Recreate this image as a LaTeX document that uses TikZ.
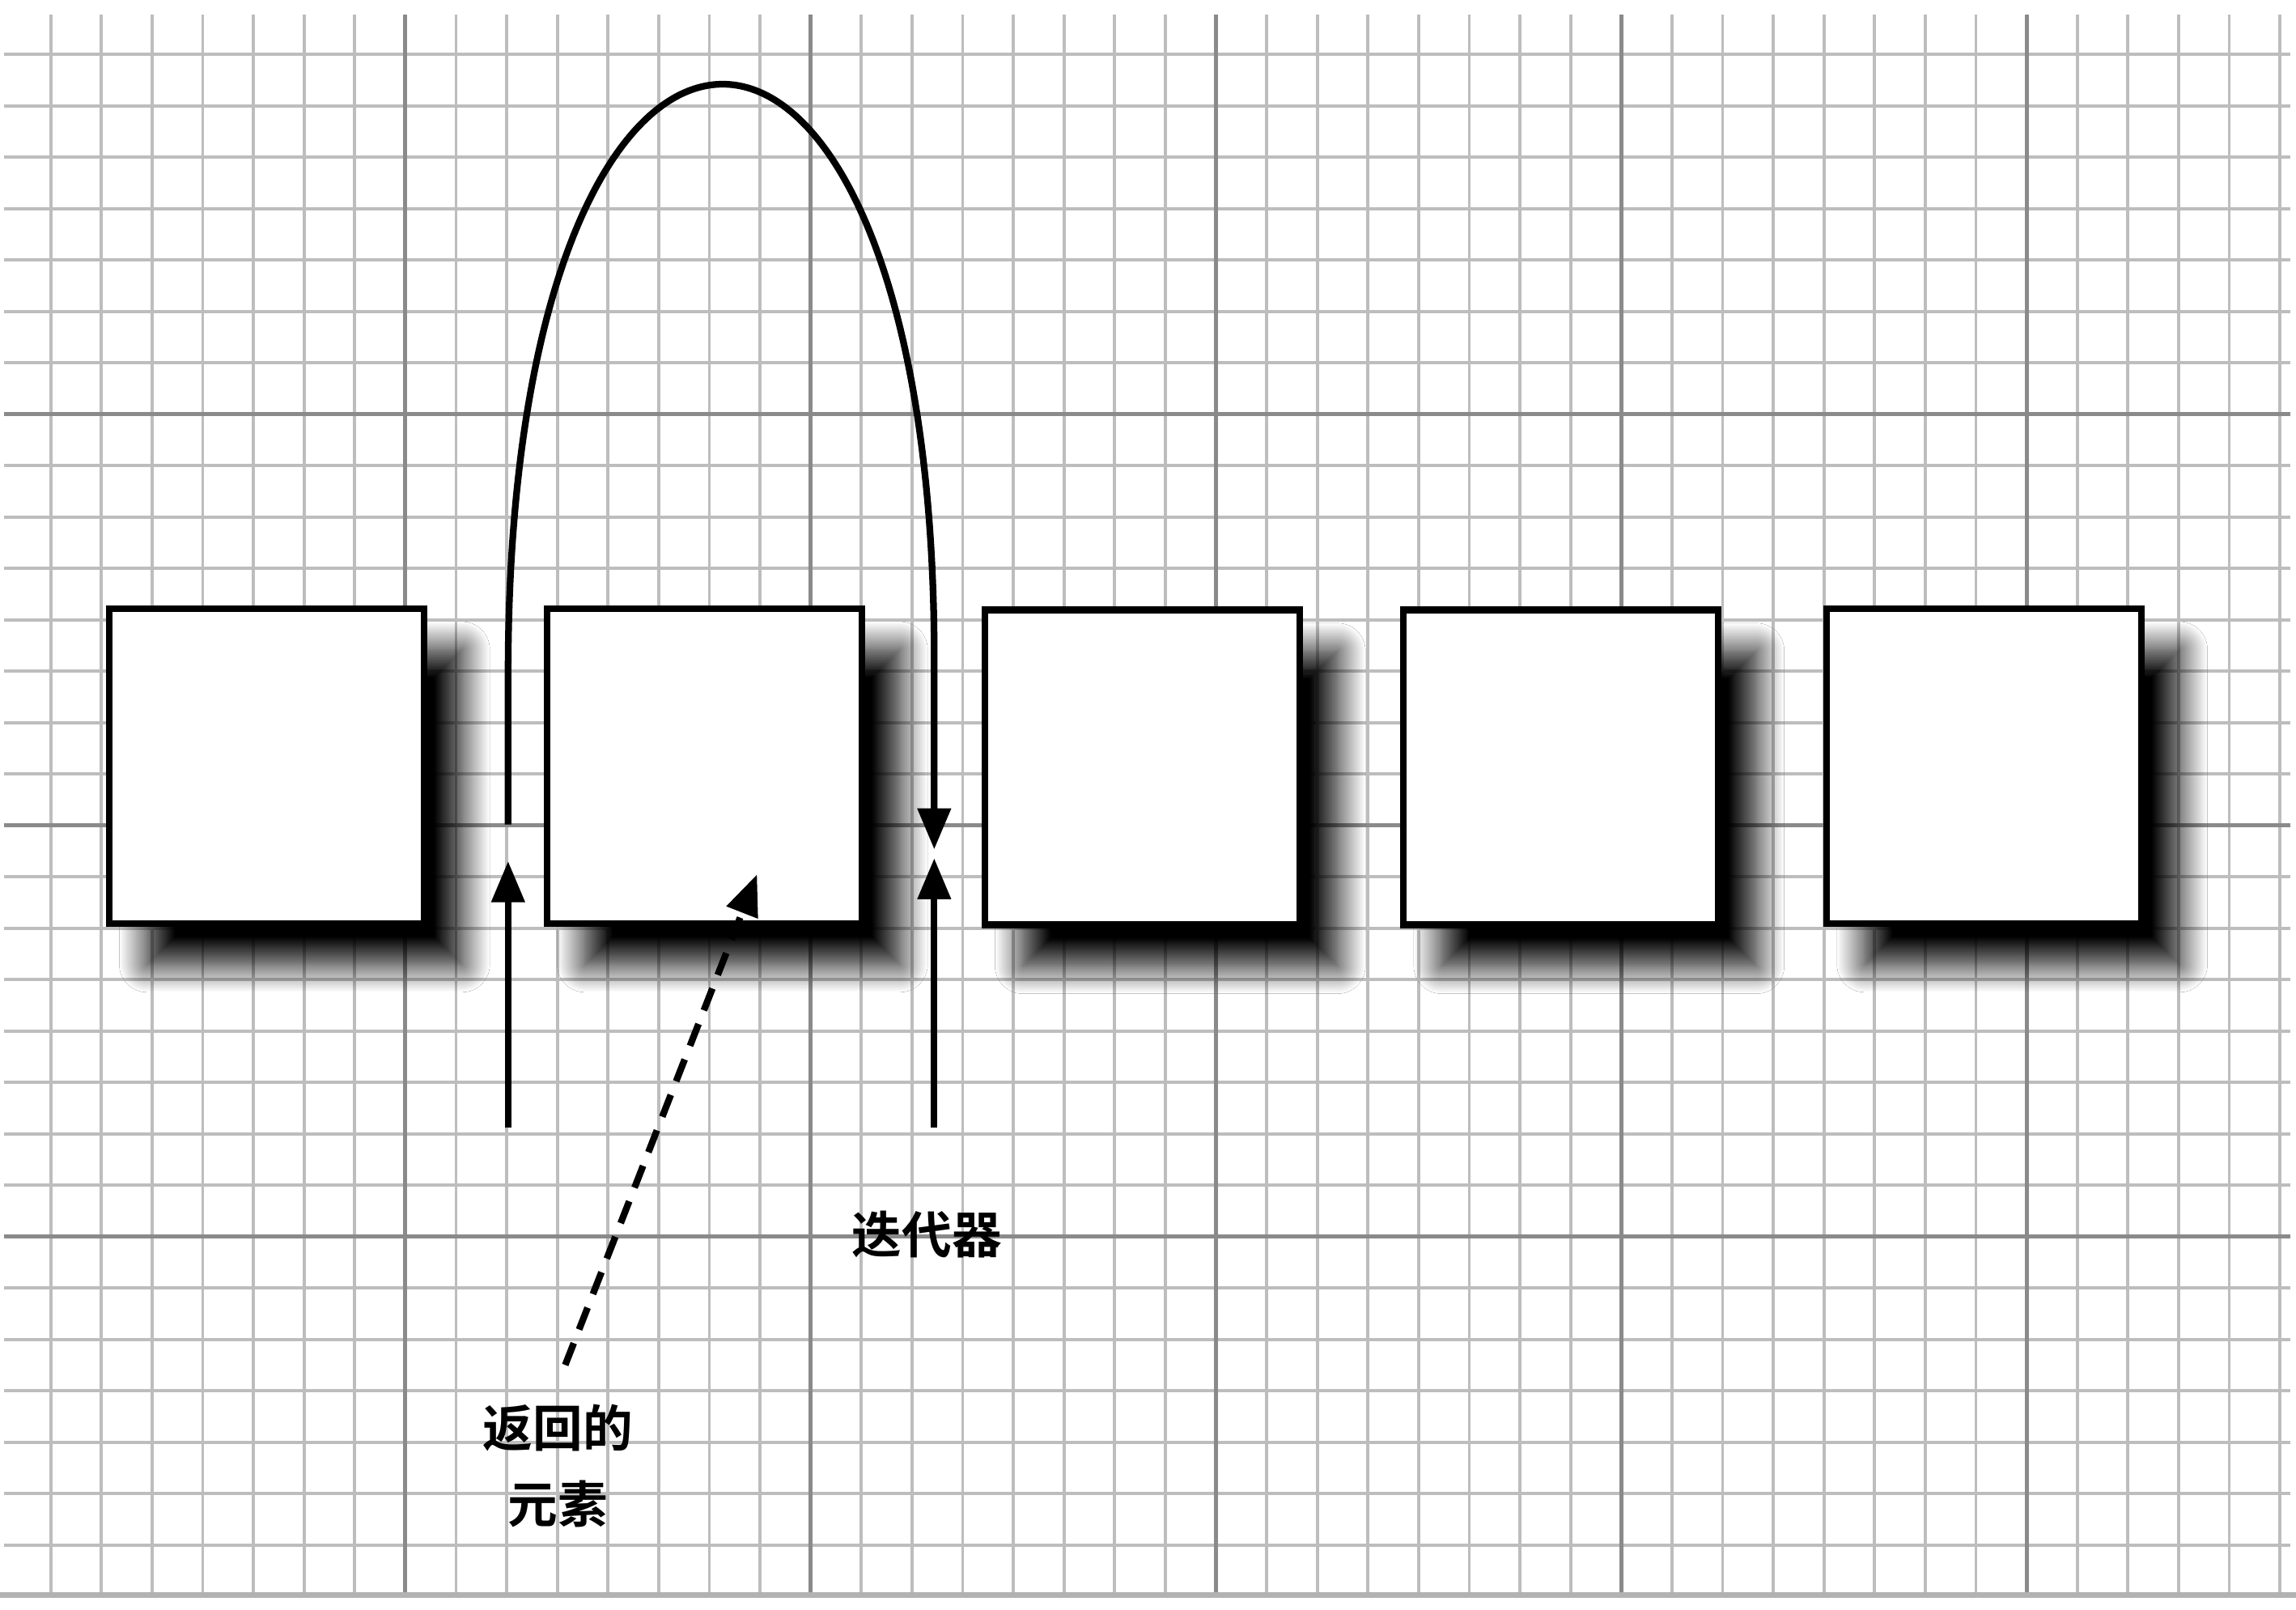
\documentclass[tikz,border=0pt]{standalone}
\usepackage{fontspec}
\newfontfamily\cjk{Noto Sans CJK SC}[BoldFont=* Bold]
\usetikzlibrary{arrows.meta,shadows.blur}

\definecolor{gridminor}{HTML}{BDBDBD}
\definecolor{gridmajor}{HTML}{8A8A8A}

\tikzset{
  cell/.style={draw=black, line width=1.3pt, fill=white,
    minimum width=2.15cm, minimum height=2.15cm,
    blur shadow={shadow xshift=2.6mm, shadow yshift=-2.8mm,
      shadow blur radius=1.9mm, shadow blur steps=24, shadow opacity=100}},
  ptr/.style={line width=1.3pt, -{Triangle[length=2.8mm,width=2.2mm]}},
  retptr/.style={ptr, dash pattern=on 1.6mm off 1mm},
  lbl/.style={font=\cjk\bfseries\fontsize{9.7}{14.8}\selectfont, align=center}
}

\begin{document}
\begin{tikzpicture}[x=0.1mm,y=-0.1mm]
    \useasboundingbox (0,0) rectangle (1568,1099);
    \fill[white] (0,0) rectangle (1568,1099);

    % Grid paper
    \foreach \k in {1,...,45}
      \draw[gridminor, line width=0.6pt] (\k*34.6,10) -- (\k*34.6,1087);
    \foreach \k in {1,...,30}
      \draw[gridminor, line width=0.6pt] (3,2+\k*35.1) -- (1564,2+\k*35.1);
    \foreach \k in {8,16,...,40}
      \draw[gridmajor, line width=0.8pt] (\k*34.6,10) -- (\k*34.6,1087);
    \foreach \k in {8,16,24}
      \draw[gridmajor, line width=0.8pt] (3,2+\k*35.1) -- (1564,2+\k*35.1);
    \fill[gray!60] (0,1087) rectangle (1568,1091);

    % The elements
    \node[cell] (e1) at (182,523) {};
    \node[cell] (e2) at (481,523) {};
    \node[cell] (e3) at (780,524) {};
    \node[cell] (e4) at (1066,524) {};
    \node[cell] (e5) at (1355,523) {};

    % Iterator jumps over the returned element
    \coordinate (jumpFrom) at (347,563);
    \coordinate (jumpTo) at (638,580);
    \draw[ptr] (jumpFrom) -- (347,460) .. controls (347,-75) and (638,-75) .. (638,450) -- (jumpTo);

    % Iterator positions
    \coordinate (oldFoot) at (347,770);
    \coordinate (oldHead) at (347,588);
    \draw[ptr] (oldFoot) -- (oldHead);
    \coordinate (newFoot) at (638,770);
    \coordinate (newHead) at (638,586);
    \draw[ptr] (newFoot) -- (newHead);

    % Labels
    \node[lbl] (iter) at (633,843) {迭代器};
    \node[lbl] (elem) at (381,1001) {返回的\\元素};
    \coordinate (elemTail) at (386,932);
    \coordinate (elemTip) at (517,597);
    \draw[retptr] (elemTail) -- (elemTip);
  \end{tikzpicture}
\end{document}
